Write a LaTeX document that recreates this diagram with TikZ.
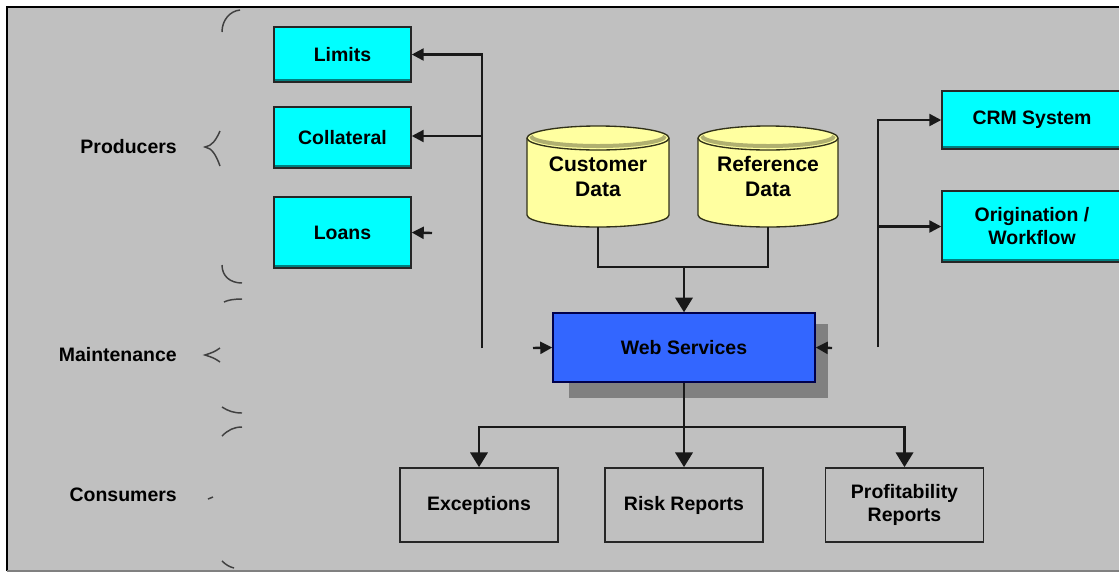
\documentclass[tikz,border=0pt]{standalone}
\usepackage{fontspec}
\setmainfont{Liberation Sans}
\usetikzlibrary{arrows.meta}

\definecolor{panel}{RGB}{192,192,192}
\definecolor{sysbox}{RGB}{0,255,255}
\definecolor{sysedge}{RGB}{0,128,128}
\definecolor{dbfill}{RGB}{255,255,160}
\definecolor{dbtop}{RGB}{176,176,112}
\definecolor{dbedge}{RGB}{48,48,24}
\definecolor{wsfill}{RGB}{51,102,255}
\definecolor{wsshadow}{RGB}{128,128,128}

\begin{document}
\begin{tikzpicture}[x=0.75pt,y=0.75pt,yscale=-1,xscale=1,
  lbl/.style={font=\fontsize{14.6pt}{17.3pt}\selectfont\bfseries, inner sep=0.75pt, align=center},
  sys/.style={lbl, draw=black!85, line width=1.1pt, fill=sysbox, minimum width=102.75pt,
    path picture={\draw[sysedge, line width=5pt] (path picture bounding box.south west) -- (path picture bounding box.south east);}},
  rpt/.style={lbl, draw=black!85, line width=1.3pt, fill=panel, minimum width=118.5pt, minimum height=55.5pt},
  db/.style={draw=dbedge, line width=1pt, fill=dbfill},
  link/.style={draw=black!90, line width=1.8pt},
  arr/.style={link, -{Triangle[length=11pt,width=13pt]}},
  tip/.style={link, -{Triangle[length=9pt,width=9pt]}},
  brc/.style={draw=black!75, line width=1.1pt}
]
\useasboundingbox (0,0) rectangle (1119,572);

%Shape: Rectangle [panel]
\fill[panel] (7,7) rectangle (1125,571);
\draw[black, line width=1.1pt] (7,571) -- (7,7) -- (1125,7);
\draw[wsshadow, line width=1pt] (7,571) -- (1125,571);

%Curve Lines [brace producers]
\draw[brc] (240,10) .. controls (230,11) and (222,20) .. (222,32);
\draw[brc] (220,131) .. controls (216,140) and (212,146) .. (205,147) .. controls (212,148) and (216,155) .. (220,166);
\draw[brc] (222,265) .. controls (222,276) and (230,283) .. (242,283);
%Curve Lines [brace maintenance]
\draw[brc] (224,302) .. controls (228,300) and (234,299) .. (242,299);
\draw[brc] (220,348) .. controls (214,352) .. (205,355) .. controls (214,358) .. (220,362);
\draw[brc] (222,407) .. controls (228,411) and (234,413) .. (242,413);
%Curve Lines [brace consumers]
\draw[brc] (242,427) .. controls (234,427) and (228,430) .. (222,436);
\draw[brc] (208,499) -- (213,497);
\draw[brc] (222,561) .. controls (226,565) and (230,567) .. (234,568);

% Text Node
\node[lbl, anchor=east] (producers) at (178,147) {Producers};
% Text Node
\node[lbl, anchor=east] (maintenance) at (178,355) {Maintenance};
% Text Node
\node[lbl, anchor=east] (consumers) at (178,495) {Consumers};

%Shape: Rectangle [producer systems]
\node[sys, minimum height=41.25pt] (limits) at (342.5,54.5) {Limits};
\node[sys, minimum height=45.75pt] (collateral) at (342.5,137.5) {Collateral};
\node[sys, minimum height=53.25pt] (loans) at (342.5,232.5) {Loans};

%Shape: Rectangle [consumer systems]
\node[sys, minimum width=135pt, minimum height=43.5pt] (crm) at (1032,120) {CRM System};
\node[sys, minimum width=135pt, minimum height=53.25pt] (origin) at (1032,226.5) {Origination /\\Workflow};

%Shape: Can [customer data]
\draw[db] (527,138) -- (527,215) arc[start angle=180, end angle=0, x radius=71, y radius=12] -- (669,138) arc[start angle=0, end angle=-180, x radius=71, y radius=12] -- cycle;
\draw[dbtop, line width=3pt] (531,136) arc[start angle=180, end angle=0, x radius=67, y radius=10];
\draw[dbedge, line width=1pt] (527,138) arc[start angle=180, end angle=0, x radius=71, y radius=12];
\node[lbl, font=\fontsize{15.8pt}{18.75pt}\selectfont\bfseries, minimum width=106.5pt, minimum height=75.75pt] (custdata) at (598,176.5) {Customer\\Data};

%Shape: Can [reference data]
\draw[db] (698,138) -- (698,215) arc[start angle=180, end angle=0, x radius=70, y radius=12] -- (838,138) arc[start angle=0, end angle=-180, x radius=70, y radius=12] -- cycle;
\draw[dbtop, line width=3pt] (702,136) arc[start angle=180, end angle=0, x radius=66, y radius=10];
\draw[dbedge, line width=1pt] (698,138) arc[start angle=180, end angle=0, x radius=70, y radius=12];
\node[lbl, font=\fontsize{15.8pt}{18.75pt}\selectfont\bfseries, minimum width=105pt, minimum height=75.75pt] (refdata) at (768,176.5) {Reference\\Data};

%Shape: Rectangle [web services]
\fill[wsshadow] (569,324) rectangle (828,398);
\node[lbl, draw=black!70!blue, line width=1.1pt, fill=wsfill, minimum width=196.5pt, minimum height=51.75pt] (websvc) at (684,347.5) {Web Services};

%Shape: Rectangle [reports]
\node[rpt] (exceptions) at (479,505) {Exceptions};
\node[rpt] (riskrep) at (684,505) {Risk Reports};
\node[rpt] (profrep) at (904.5,505) {Profitability\\Reports};

%Straight Lines
\coordinate (leftbus) at (482,348);
\coordinate (rightbus) at (878,347);
\coordinate (loansstub) at (432,233);
\coordinate (wsleft) at (533,348);
\coordinate (wsright) at (832,348);
\coordinate (dbjoin) at (684,267);
\coordinate (rptjoin) at (684,427);

\draw[tip] (leftbus) |- (limits.east);
\draw[tip] (leftbus |- 0,136) -- (collateral.east |- 0,136);
\draw[tip] (loansstub) -- (loans.east);
\draw[tip] (wsleft) -- (websvc.west);
\draw[tip] (wsright) -- (websvc.east);
\draw[tip] (rightbus) |- (crm.west);
\draw[tip] (rightbus |- origin.west) -- (origin.west);

\draw[link] (custdata.south) |- (dbjoin) -| (refdata.south);
\draw[arr] (dbjoin) -- (websvc.north);

\draw[link] (websvc.south) -- (rptjoin);
\draw[arr] (rptjoin) -| (exceptions.north);
\draw[arr] (rptjoin) -- (riskrep.north);
\draw[arr] (rptjoin) -| (profrep.north);

\end{tikzpicture}
\end{document}
